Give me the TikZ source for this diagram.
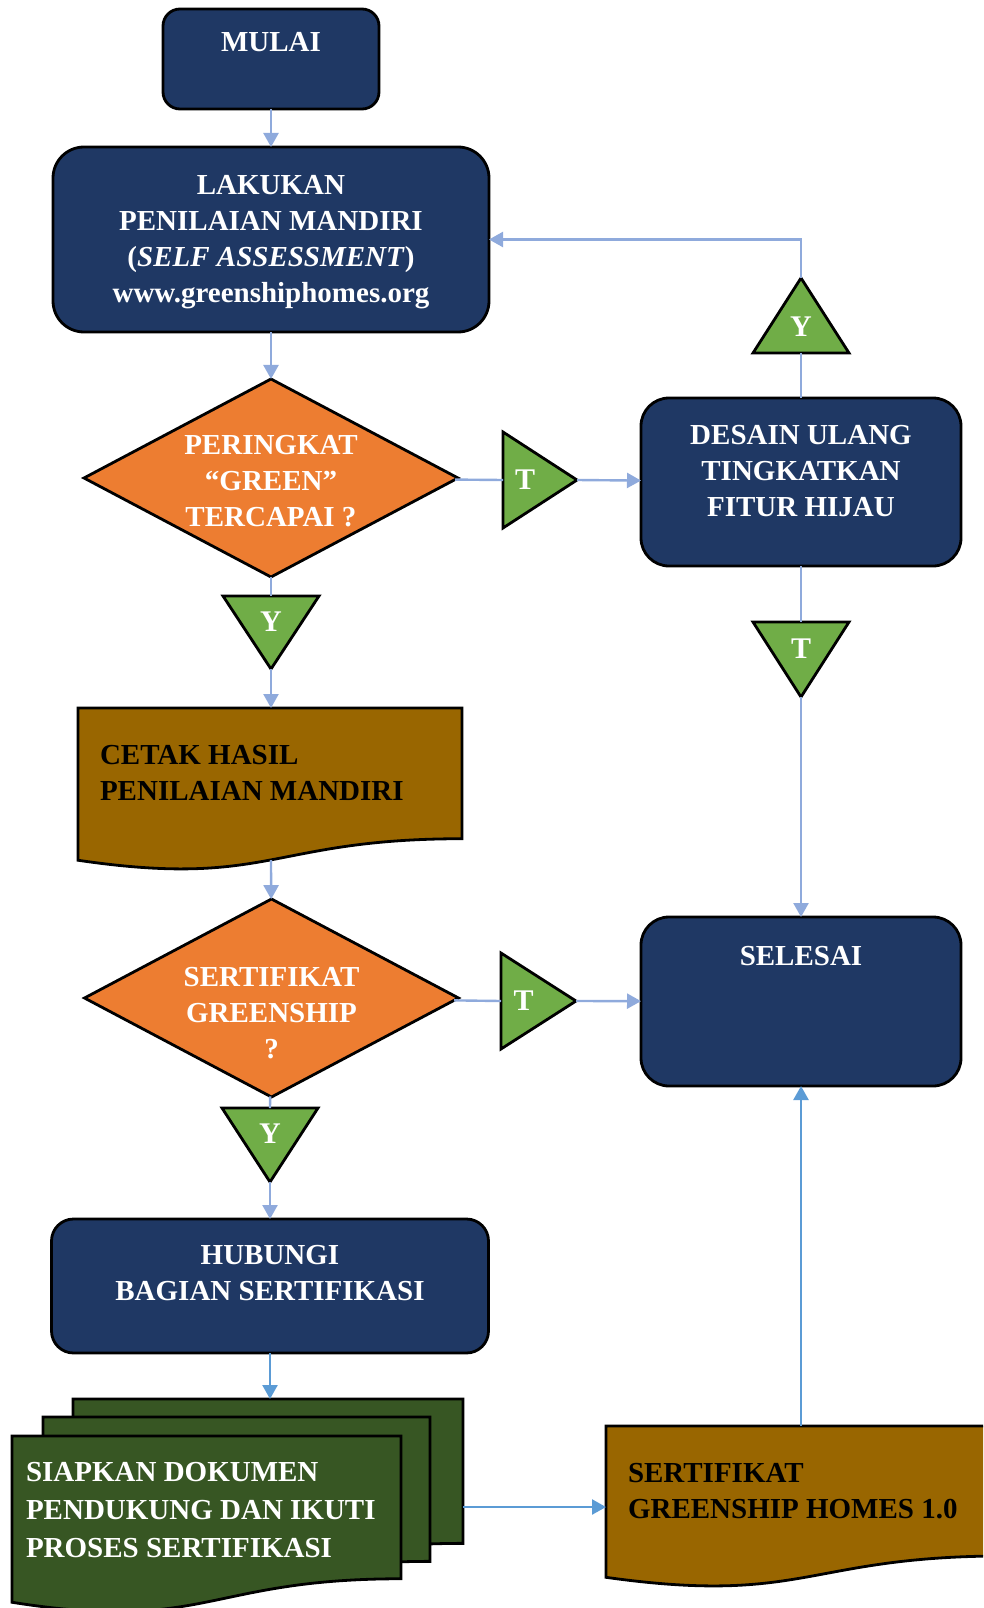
\documentclass[tikz,border=0pt]{standalone}
\usepackage{fontspec}
\setmainfont{Liberation Serif}
\usetikzlibrary{shapes.geometric,arrows.meta}

\definecolor{boxblue}{HTML}{1F3864}
\definecolor{decorange}{HTML}{ED7D31}
\definecolor{flaggreen}{HTML}{70AD47}
\definecolor{docbrown}{HTML}{996600}
\definecolor{stackgreen}{HTML}{375623}
\definecolor{linkblue}{HTML}{8FAADC}
\definecolor{linkdark}{HTML}{5B9BD5}

\newcommand\bigfont{\fontsize{29}{36}\selectfont\bfseries}

% document sheet: left, top, width, height, fill
\newcommand\docsheet[5]{%
  \filldraw[sheet,fill=#5] (#1,#2) -- ({#1+#3},#2) -- ({#1+#3},{#2+0.802*#4})
    .. controls ({#1+0.5*#3},{#2+0.802*#4}) and ({#1+0.5*#3},{#2+1.107*#4})
    .. (#1,{#2+0.934*#4}) -- cycle;}

% answer flag: name, base x, base y, tip x, tip y, letter
\newcommand\flag[6]{%
  \pgfmathsetmacro\flaglen{abs(#4-#2)+abs(#5-#3)}%
  \filldraw[flagshape] ({#2-48*(#5-#3)/\flaglen},{#3+48*(#4-#2)/\flaglen})
    -- ({#2+48*(#5-#3)/\flaglen},{#3-48*(#4-#2)/\flaglen}) -- (#4,#5) -- cycle;
  \coordinate (#1-base) at (#2,#3);
  \coordinate (#1-tip) at (#4,#5);
  \node[flagtext] (#1) at ({#2+0.3*(#4-#2)},{#3+0.35*(#5-#3)}) {#6};}

\begin{document}
\begin{tikzpicture}[x=1pt,y=-1pt,
  every node/.style={inner sep=0pt,outer sep=0pt,font=\bigfont},
  procbox/.style={draw=black,line width=2.8pt,fill=boxblue,rounded corners=28pt,
    text=white,align=center},
  decision/.style={diamond,aspect=1.9,draw=black,line width=2.8pt,fill=decorange,
    minimum width=374pt,minimum height=198pt},
  boxtext/.style={text=white,align=center},
  doctext/.style={align=left,anchor=west},
  sheet/.style={draw=black,line width=2.8pt},
  flagshape/.style={draw=black,line width=2.8pt,fill=flaggreen},
  flagtext/.style={text=white,font=\fontsize{30}{36}\selectfont\bfseries},
  plain/.style={draw=linkblue,line width=2.4pt},
  link/.style={plain,-{Triangle[length=14pt,width=15pt]}},
  boldlink/.style={link,draw=linkdark}]

  \useasboundingbox (0,0) rectangle (983,1608);
  \clip (0,0) rectangle (983,1608);

  \node[procbox,rounded corners=17pt,minimum width=216pt,minimum height=100pt] (mulai) at (271,59) {};
  \node[boxtext] (mulai-txt) at (271,42) {MULAI};

  \node[procbox,rounded corners=31pt,minimum width=436pt,minimum height=185pt] (nilai) at (271,239.5) {};
  \node[boxtext] (nilai-txt) at (271,242)
    {LAKUKAN\\PENILAIAN MANDIRI\\(\textit{SELF ASSESSMENT})\\www.greenshiphomes.org};

  \node[decision] (hijau) at (271,478) {};
  \node[boxtext] (hijau-txt) at (271,481) {PERINGKAT\\“GREEN”\\TERCAPAI ?};

  \docsheet{78}{708}{384}{163}{docbrown}
  \coordinate (cetak-in) at (271,708);
  \coordinate (cetak-out) at (271,860);
  \node[doctext] (cetak) at (100,772.5) {CETAK HASIL\\PENILAIAN MANDIRI};

  \node[decision] (serti) at (271.5,998) {};
  \node[boxtext] (serti-txt) at (271.5,1013) {SERTIFIKAT\\GREENSHIP\\?};

  \node[procbox,rounded corners=22pt,minimum width=437pt,minimum height=134pt] (hubungi) at (270,1286) {};
  \node[boxtext] (hubungi-txt) at (270,1273) {HUBUNGI\\BAGIAN SERTIFIKASI};

  \docsheet{73}{1399}{390}{180}{stackgreen}
  \docsheet{43}{1417}{387}{180}{stackgreen}
  \docsheet{12}{1436}{389}{178}{stackgreen}
  \coordinate (dok-in) at (270,1399);
  \coordinate (dok-out) at (463,1507);
  \node[doctext,text=white,font=\fontsize{29}{38}\selectfont\bfseries] (dokumen) at (26,1510)
    {SIAPKAN DOKUMEN\\PENDUKUNG DAN IKUTI\\PROSES SERTIFIKASI};

  \docsheet{606}{1426}{400}{162}{docbrown}
  \coordinate (hasil-in) at (606,1507);
  \coordinate (hasil-out) at (801,1426);
  \node[doctext] (hasil) at (628,1491) {SERTIFIKAT\\GREENSHIP HOMES 1.0};

  \node[procbox,minimum width=320pt,minimum height=168pt] (desain) at (801,482) {};
  \node[boxtext] (desain-txt) at (801,471) {DESAIN ULANG\\TINGKATKAN\\FITUR HIJAU};

  \node[procbox,minimum width=320pt,minimum height=169pt] (selesai) at (801,1001.5) {};
  \node[boxtext] (selesai-txt) at (801,956) {SELESAI};

  \flag{ya}{271}{596}{271}{669}{Y}
  \flag{ta}{503}{480}{577}{480}{T}
  \flag{yc}{801}{353}{801}{278}{Y}
  \flag{tc}{801}{622}{801}{697}{T}
  \flag{tb}{501}{1001}{576}{1001}{T}
  \flag{yb}{270}{1108}{270}{1182}{Y}

  \draw[link] (mulai) -- (nilai);
  \draw[link] (nilai) -- (hijau);
  \draw[plain] (hijau) -- (ta-base);
  \draw[link] (ta-tip) -- (desain);
  \draw[plain] (hijau) -- (ya-base);
  \draw[link] (ya-tip) -- (cetak-in);
  \draw[link] (cetak-out) -- (serti);
  \draw[plain] (serti) -- (tb-base);
  \draw[link] (tb-tip) -- (selesai);
  \draw[plain] (serti) -- (yb-base);
  \draw[link] (yb-tip) -- (hubungi);
  \draw[boldlink] (hubungi) -- (dok-in);
  \draw[boldlink] (dok-out) -- (hasil-in);
  \draw[boldlink] (hasil-out) -- (selesai);
  \draw[plain] (desain) -- (yc-base);
  \draw[link] (yc-tip) |- (nilai);
  \draw[plain] (desain) -- (tc-base);
  \draw[link] (tc-tip) -- (selesai);
\end{tikzpicture}
\end{document}
